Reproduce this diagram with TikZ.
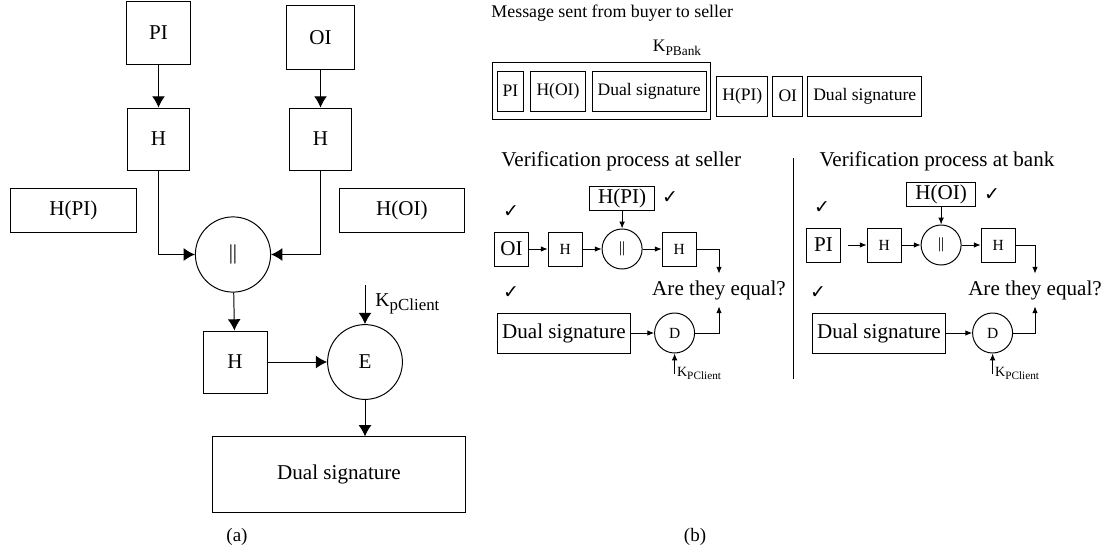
\documentclass[tikz,border=0pt]{standalone}
\usepackage{fontspec}
\setmainfont{Liberation Serif}
\newfontfamily\symfont{DejaVu Sans}
\usetikzlibrary{arrows.meta,positioning,fit}

\begin{document}
\begin{tikzpicture}[x=0.025cm, y=-0.025cm, line width=0.7pt,
    >={Latex[length=2.8mm,width=3.2mm]},
    big/.style={font=\fontsize{15pt}{18pt}\selectfont},
    mid/.style={font=\fontsize{12.5pt}{15pt}\selectfont},
    small/.style={font=\fontsize{11pt}{13pt}\selectfont},
    block/.style={rectangle, draw, inner sep=0pt},
    cat/.style={circle, draw, inner sep=0pt},
    msgbox/.style={rectangle, draw, mid, inner xsep=1.4mm, inner ysep=0pt, minimum height=10mm},
    tick/.style={font=\symfont\fontsize{13.5pt}{15pt}\selectfont, inner sep=0pt},
    caption/.style={font=\fontsize{13.5pt}{16pt}\selectfont}]

    \useasboundingbox (0,0) rectangle (1105,552);

    % (a)
    \node[block, big, minimum width=15.8mm, minimum height=15.5mm] (pi) at (158.5,33) {PI};
    \node[block, big, minimum width=17mm, minimum height=15.8mm] (oi) at (320.5,37.5) {OI};
    \node[block, big, minimum size=15.5mm] (hpi) at (158.5,139) {H};
    \node[block, big, minimum size=15.5mm] (hoi) at (320.5,139) {H};
    \node[block, big, minimum width=31.3mm, minimum height=11mm] (hpitxt) at (73.5,210) {H(PI)};
    \node[block, big, minimum width=31.3mm, minimum height=11mm] (hoitxt) at (402,210) {H(OI)};
    \node[cat, big, minimum size=18.8mm] (conc) at (233,254.5) {||};
    \node[block, big, minimum width=16mm, minimum height=15.5mm] (hdig) at (235,362) {H};
    \node[cat, big, minimum size=18.7mm] (enc) at (365,362) {E};
    \node[block, big, minimum width=63mm, minimum height=18.8mm] (dsig) at (339,474.5) {Dual signature};
    \coordinate (kin) at (365,285);
    \node[anchor=base west, inner sep=0pt, font=\fontsize{14pt}{16pt}\selectfont] (kcl) at (375,306) {K\raisebox{-.5ex}{\fontsize{12pt}{14pt}\selectfont pClient}};
    \node[caption] (capa) at (237,537) {(a)};

    \draw[->] (pi) -- (hpi);
    \draw[->] (oi) -- (hoi);
    \draw[->] (hpi.south) |- (conc.west);
    \draw[->] (hoi.south) |- (conc.east);
    \draw[->] (conc) -- (hdig);
    \draw[->] (hdig) -- (enc);
    \draw[->] (kin) -- (enc);
    \draw[->] (enc.south) -- (enc.south |- dsig.north);

    % (b) message
    \node[anchor=west, inner sep=0pt, font=\fontsize{12.7pt}{15pt}\selectfont] (msgttl) at (491,13) {Message sent from buyer to seller};
    \node[msgbox] (mpi) at (510.5,91) {PI};
    \node[msgbox, right=1.5mm of mpi] (mhoi) {H(OI)};
    \node[msgbox, right=1.5mm of mhoi] (mds) {Dual signature};
    \node[draw, fit=(mpi)(mds), inner xsep=1mm, inner ysep=2mm] (envl) {};
    \node[font=\fontsize{12.5pt}{15pt}\selectfont, inner sep=0pt] (kbank) at (677,48) {K\raisebox{-.5ex}{\fontsize{9.5pt}{11pt}\selectfont PBank}};
    \node[msgbox, right=1.25mm of envl, yshift=-1.25mm] (mhpi) {H(PI)};
    \node[msgbox, right=1mm of mhpi] (moi) {OI};
    \node[msgbox, right=1mm of moi] (mds2) {Dual signature};

    % (b) seller
    \node[anchor=west, big, inner sep=0pt] (ttlS) at (501,161) {Verification process at seller};
    \node[block, big, minimum height=8.5mm, minimum width=8.3mm] (oiS) at (511.5,249) {OI};
    \node[block, small, minimum size=8.5mm, right=4.75mm of oiS] (hS) {H};
    \node[cat, small, minimum size=10mm, right=4.75mm of hS] (cS) {||};
    \node[block, small, minimum size=8.5mm, right=4.75mm of cS] (h2S) {H};
    \node[block, big, minimum height=5.8mm, inner xsep=2.2mm, above=4.5mm of cS] (hpiS) {H(PI)};
    \node[block, big, minimum height=10mm, inner xsep=1.2mm] (dsS) at (564,333) {Dual signature};
    \node[cat, small, minimum size=10mm, right=5.75mm of dsS] (dS) {D};
    \node[big, inner ysep=4.5pt, inner xsep=1pt] (eqS) at (719,290) {Are they equal?};
    \coordinate[below=5mm of dS] (kS);
    \node[right=0.5mm of kS, inner sep=0pt, font=\fontsize{10pt}{12pt}\selectfont] (kSlbl) {K\raisebox{-.5ex}{\fontsize{8pt}{10pt}\selectfont PClient}};
    \node[tick] (t1S) at (670,198) {✓};
    \node[tick] (t2S) at (511,212) {✓};
    \node[tick] (t3S) at (511,293) {✓};

    \coordinate (sepTop) at (793,158);
    \coordinate (sepBot) at (793,379);
    \draw (sepTop) -- (sepBot);

    % (b) bank
    \node[anchor=west, big, inner sep=0pt] (ttlB) at (819,161) {Verification process at bank};
    \node[block, big, minimum height=8.5mm, minimum width=8.3mm] (piB) at (823.5,245) {PI};
    \node[block, small, minimum size=8.5mm, right=6.5mm of piB] (hB) {H};
    \node[cat, small, minimum size=10mm, right=4.75mm of hB] (cB) {||};
    \node[block, small, minimum size=8.5mm, right=4.75mm of cB] (h2B) {H};
    \node[block, big, minimum height=5.8mm, inner xsep=2.2mm, above=4.5mm of cB] (hoiB) {H(OI)};
    \node[block, big, minimum height=10mm, inner xsep=1.2mm] (dsB) at (879,333) {Dual signature};
    \node[cat, small, minimum size=10mm, right=6.5mm of dsB] (dB) {D};
    \node[big, inner ysep=4.5pt, inner xsep=1pt] (eqB) at (1035,290) {Are they equal?};
    \coordinate[below=5mm of dB] (kB);
    \node[right=0.5mm of kB, inner sep=0pt, font=\fontsize{10pt}{12pt}\selectfont] (kBlbl) {K\raisebox{-.5ex}{\fontsize{8pt}{10pt}\selectfont PClient}};
    \node[tick] (t1B) at (992,195) {✓};
    \node[tick] (t2B) at (822,208) {✓};
    \node[tick] (t3B) at (818,293) {✓};

    \node[caption] (capb) at (695,537) {(b)};

    \begin{scope}[>={Latex[length=1.7mm,width=1.4mm]}]
    \draw[->] (oiS) -- (hS);
    \draw[->] (hS) -- (cS);
    \draw[->] (cS) -- (h2S);
    \draw[->] (hpiS) -- (cS);
    \draw[->] (h2S.east) -| (eqS.north);
    \draw[->] (dsS) -- (dS);
    \draw[->] (dS.east) -| (eqS.south);
    \draw[->] (kS) -- (dS);

    \draw[->, shorten <=1.75mm] (piB) -- (hB);
    \draw[->] (hB) -- (cB);
    \draw[->] (cB) -- (h2B);
    \draw[->] (hoiB) -- (cB);
    \draw[->] (h2B.east) -| (eqB.north);
    \draw[->] (dsB) -- (dB);
    \draw[->] (dB.east) -| (eqB.south);
    \draw[->] (kB) -- (dB);
    \end{scope}
\end{tikzpicture}
\end{document}
